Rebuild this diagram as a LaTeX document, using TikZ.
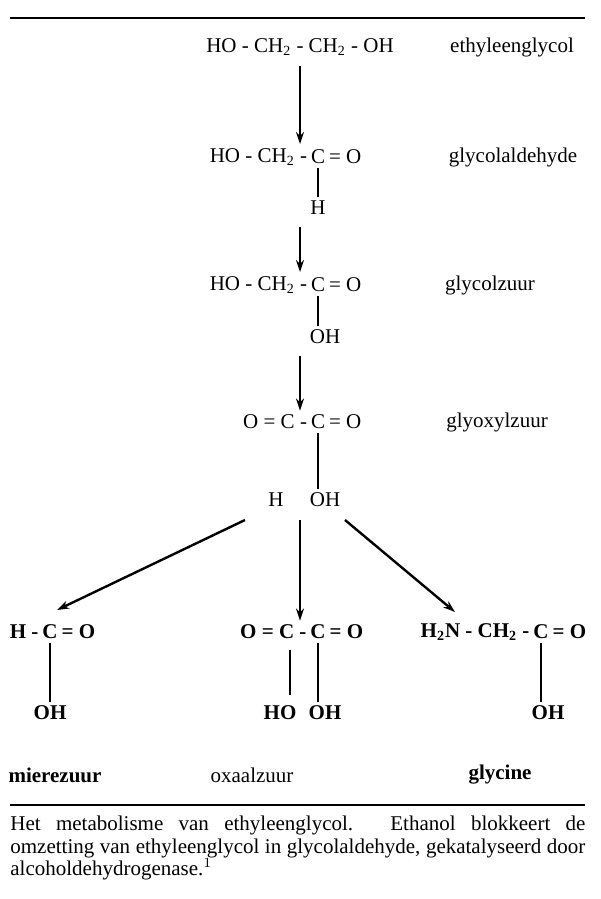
\documentclass[tikz,border=0pt]{standalone}
\usepackage{fontspec}
\setmainfont{Liberation Serif}
\usetikzlibrary{positioning,arrows.meta}
\tikzset{
  chem/.style={inner ysep=2pt, inner xsep=0.8pt, font=\fontsize{10.5}{12}\selectfont},
  bchem/.style={chem, font=\fontsize{10.5}{12}\selectfont\bfseries},
  cname/.style={inner sep=1pt, font=\fontsize{10.5}{12}\selectfont},
  bond/.style={line width=1pt},
  step arrow/.style={line width=0.8pt, -{Stealth[length=6pt,width=4pt]}},
}
\newcommand{\sub}[1]{\textsubscript{\fontsize{7}{8}\selectfont #1}}
\begin{document}
\begin{tikzpicture}[x=0.5pt,y=-0.5pt]
  \useasboundingbox (0,0) rectangle (600,899);
  \draw[line width=0.6pt] (10,18) -- (585,18);
  \draw[line width=0.6pt] (10,805) -- (585,805);

  % ethyleenglycol
  \node[chem] (eg) at (300,47) {HO - CH\sub{2} - CH\sub{2} - OH};
  \node[cname] at (512,47) {ethyleenglycol};

  % glycolaldehyde
  \node[chem] (c2) at (318,157) {C};
  \node[chem, left=0pt of c2] (l2) {HO - CH\sub{2} -};
  \node[chem, right=0pt of c2] {= O};
  \node[chem] (h2) at (318,208) {H};
  \node[cname] at (513,157) {glycolaldehyde};
  \draw[bond] (c2) -- (h2);

  % glycolzuur
  \node[chem] (c3) at (318,285) {C};
  \node[chem, left=0pt of c3] (l3) {HO - CH\sub{2} -};
  \node[chem, right=0pt of c3] {= O};
  \node[chem] (oh3) at (325,337) {OH};
  \node[cname] at (490,285) {glycolzuur};
  \draw[bond] (c3) -- (c3 |- oh3.north);

  % glyoxylzuur
  \node[chem] (c4) at (318,422) {C};
  \node[chem, left=0pt of c4] (l4) {O = C -};
  \node[chem, right=0pt of c4] {= O};
  \node[chem] (h4) at (276,500) {H};
  \node[chem] (oh4) at (325,500) {OH};
  \node[cname] at (497,422) {glyoxylzuur};
  \draw[bond] (c4) -- (c4 |- oh4.north);

  \draw[step arrow] (eg.south) ++(0,6) -- (l2.north -| eg);
  \draw[step arrow] (h2.south -| eg) ++(0,8) -- (l3.north -| eg);
  \draw[step arrow] (oh3.south -| eg) ++(0,8) -- (l4.north -| eg);

  % mierezuur
  \node[bchem] (c5) at (50,632) {C};
  \node[bchem, left=0pt of c5] {H -};
  \node[bchem, right=0pt of c5] {= O};
  \node[bchem] (oh5) at (50,713) {OH};
  \draw[bond] (c5) -- (oh5);

  % oxaalzuur
  \node[bchem] (c6) at (318,632) {C};
  \node[bchem, left=0pt of c6] (c6a) {O = C -};
  \node[bchem, right=0pt of c6] {= O};
  \coordinate (c6b) at (290,632);
  \node[bchem] (ho6) at (280,713) {HO};
  \node[bchem] (oh6) at (325,713) {OH};
  \draw[bond] (c6b) ++(0,18) -- (290,695);
  \draw[bond] (c6) -- (c6 |- oh6.north);

  % glycine
  \node[bchem] (c7) at (541,632) {C};
  \node[bchem, left=0pt of c7] {H\sub{2}N - CH\sub{2} -};
  \node[bchem, right=0pt of c7] {= O};
  \node[bchem] (oh7) at (548,713) {OH};
  \draw[bond] (c7) -- (c7 |- oh7.north);

  \coordinate (p1) at (245,520);
  \coordinate (p2) at (300,520);
  \coordinate (p3) at (345,520);
  \draw[step arrow, line width=1.2pt] (p1) -- (57,610);
  \draw[step arrow] (p2) -- (c6.north -| p2);
  \draw[step arrow, line width=1.2pt] (p3) -- (455,612);

  \node[cname, font=\fontsize{10.5}{12}\selectfont\bfseries] at (55,775) {mierezuur};
  \node[cname] at (252,775) {oxaalzuur};
  \node[cname, font=\fontsize{10.5}{12}\selectfont\bfseries] at (500,775) {glycine};

  \node[anchor=north west, inner sep=0pt, text width=287.5pt, align=justify,
        font=\fontsize{10.5}{11.2}\selectfont] (cap) at (10,816)
    {Het metabolisme van ethyleenglycol. Ethanol blokkeert de omzetting van ethyleenglycol in glycolaldehyde, gekatalyseerd door alcoholdehydrogenase.$^1$};
\end{tikzpicture}
\end{document}
